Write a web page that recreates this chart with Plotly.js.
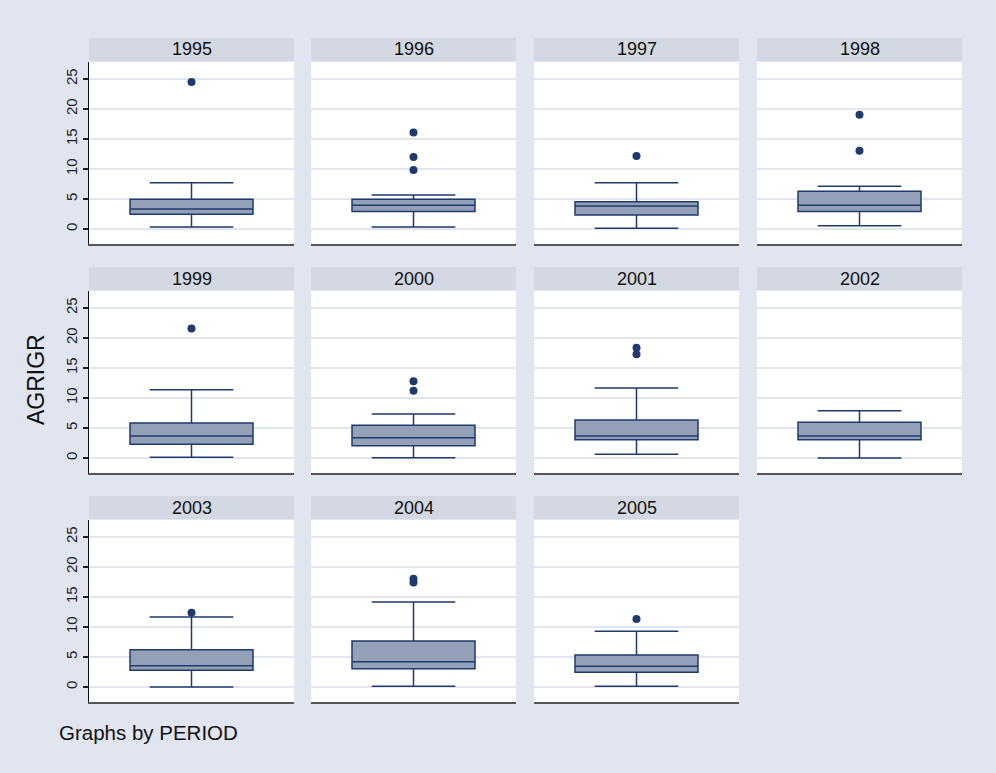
<!DOCTYPE html>
<html>
<head>
<meta charset="utf-8">
<script src="https://cdn.plot.ly/plotly-3.0.1.min.js"></script>
<style>html,body{margin:0;padding:0;background:#e1e5f0;}#chart{width:996px;height:773px;}</style>
</head>
<body>
<div id="chart"></div>
<script>
// ---- data ----
const periods   = ['1995','1996','1997','1998','1999','2000','2001','2002','2003','2004','2005'];
const lowerWhisker = [0.33, 0.33, 0.11, 0.56, 0.11, 0.06, 0.61, 0.0, 0.0, 0.11, 0.11];
const q1Values     = [2.45, 2.90, 2.33, 2.90, 2.28, 2.06, 3.06, 3.06, 2.78, 3.06, 2.44];
const medianValues = [3.33, 3.94, 3.83, 3.94, 3.67, 3.39, 3.67, 3.67, 3.56, 4.22, 3.44];
const q3Values     = [4.95, 4.95, 4.56, 6.28, 5.83, 5.44, 6.33, 5.94, 6.22, 7.67, 5.33];
const upperWhisker = [7.72, 5.67, 7.72, 7.11, 11.39, 7.33, 11.67, 7.89, 11.67, 14.17, 9.28];
const outlierValues = [
  [24.5],
  [16.1, 12.0, 9.83],
  [12.17],
  [19.06, 13.06],
  [21.56],
  [12.78, 11.22],
  [18.39, 17.28],
  [],
  [12.39],
  [18.06, 17.4],
  [11.33]
];
const yTicks = [0, 5, 10, 15, 20, 25];
const yTitle = 'AGRIGR';
const noteText = 'Graphs by PERIOD';

// ---- layout geometry (pixels) ----
const W = 996, H = 773;
const colLeft = [89, 311, 534, 757];
const panelW = 205;
const rowTop = [62, 291, 520];
const panelH = 182;
const stripH = 23;
const navy = '#1f3a6e';

const traces = [];
const layout = {
  width: W, height: H,
  margin: {l: 0, r: 0, t: 0, b: 0},
  paper_bgcolor: '#e1e5f0',
  plot_bgcolor: '#ffffff',
  showlegend: false,
  hovermode: false,
  font: {family: 'Liberation Sans, Arial, sans-serif', color: '#111'},
  shapes: [],
  annotations: []
};

periods.forEach((p, i) => {
  const r = Math.floor(i / 4), c = i % 4;
  const k = i === 0 ? '' : String(i + 1);
  const xa = 'x' + k, ya = 'y' + k;
  const x0 = colLeft[c], x1 = colLeft[c] + panelW;
  const y0 = rowTop[r], y1 = rowTop[r] + panelH;

  layout['xaxis' + k] = {
    domain: [x0 / W, x1 / W], anchor: ya, range: [-1, 1],
    showticklabels: false, ticks: '', showgrid: false, zeroline: false,
    showline: true, linecolor: '#555555', linewidth: 2, fixedrange: true
  };
  layout['yaxis' + k] = {
    domain: [1 - y1 / H, 1 - y0 / H], anchor: xa, range: [-2.5, 27.83],
    tickvals: yTicks, ticktext: yTicks.map(String),
    showticklabels: c === 0, ticks: c === 0 ? 'outside' : '', ticklen: 5, tickwidth: 1.2, tickcolor: '#222',
    tickangle: -90, tickfont: {size: 15, color: '#222'},
    showgrid: true, gridcolor: '#e1e6ef', gridwidth: 2, zeroline: false,
    showline: c === 0, linecolor: '#111', linewidth: 1.5, fixedrange: true
  };

  traces.push({
    type: 'box', xaxis: xa, yaxis: ya,
    x: [0], q1: [q1Values[i]], median: [medianValues[i]], q3: [q3Values[i]],
    lowerfence: [lowerWhisker[i]], upperfence: [upperWhisker[i]],
    boxpoints: false, width: 1.2, whiskerwidth: 0.68,
    fillcolor: '#94a0b7', line: {color: navy, width: 1.5}
  });
  if (outlierValues[i].length) {
    traces.push({
      type: 'scatter', mode: 'markers', xaxis: xa, yaxis: ya,
      x: outlierValues[i].map(() => 0), y: outlierValues[i],
      marker: {color: navy, size: 8}
    });
  }

  // strip header
  layout.shapes.push({
    type: 'rect', xref: 'paper', yref: 'paper', layer: 'below',
    x0: x0 / W, x1: x1 / W, y0: 1 - (y0 - 1) / H, y1: 1 - (y0 - 1 - stripH) / H,
    fillcolor: '#d3d8e3', line: {width: 0}
  });
  layout.annotations.push({
    xref: 'paper', yref: 'paper', x: (x0 + x1) / 2 / W, y: 1 - (y0 - 1 - stripH / 2) / H,
    text: p, showarrow: false, xanchor: 'center', yanchor: 'middle',
    font: {size: 18, color: '#111'}
  });
});

layout.annotations.push({
  xref: 'paper', yref: 'paper', x: 36 / W, y: 1 - 380 / H,
  text: yTitle, showarrow: false, textangle: -90, xanchor: 'center', yanchor: 'middle',
  font: {size: 23, color: '#111'}
});
layout.annotations.push({
  xref: 'paper', yref: 'paper', x: 57 / W, y: 1 - 732 / H,
  text: noteText, showarrow: false, xanchor: 'left', yanchor: 'middle',
  font: {size: 20.5, color: '#111'}
});

Plotly.newPlot('chart', traces, layout, {displayModeBar: false, staticPlot: true});
</script>
</body>
</html>
